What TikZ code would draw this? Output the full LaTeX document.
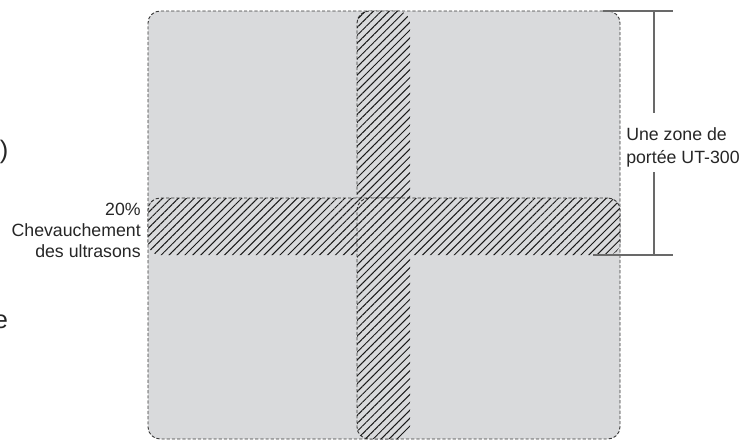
\documentclass[tikz,border=0pt]{standalone}
\usepackage{fontspec}
\setmainfont{Liberation Sans}
\usetikzlibrary{patterns.meta}
\definecolor{zonefill}{RGB}{217,218,220}
\definecolor{zoneline}{RGB}{55,55,55}
\definecolor{dimline}{RGB}{105,105,105}
\begin{document}
\begin{tikzpicture}[x=0.75pt,y=-0.75pt,
  zone/.style={draw=zoneline, fill=zonefill, dash pattern=on 2.4pt off 1.5pt,
    line width=0.7pt, rounded corners=9pt, inner sep=0pt, outer sep=0pt, anchor=north west},
  hatch/.style={pattern={Lines[angle=45,distance=4.2pt,line width=0.75pt]}, pattern color=black!90},
  lbl/.style={font=\fontsize{13.3}{15.75}\selectfont, inner sep=0pt, text=black!85},
  frag/.style={font=\fontsize{19}{22}\selectfont, inner sep=0pt, text=black!85},
  dim/.style={draw=dimline, line width=0.8pt}]
\useasboundingbox (0,0) rectangle (752,440);
% zones
\node[zone, minimum width=196.5pt, minimum height=183pt] (tl) at (148,11) {};
\node[zone, minimum width=197.25pt, minimum height=183pt] (tr) at (357,11) {};
\node[zone, minimum width=196.5pt, minimum height=180.75pt] (bl) at (148,198) {};
\node[zone, minimum width=197.25pt, minimum height=180.75pt] (br) at (357,198) {};
% overlaps: union of the four pairwise intersections, one fill
\fill[hatch, rounded corners=9pt]
  (tr.north west) rectangle (tl.south east)
  (bl.north west) rectangle (tl.south east)
  (br.north west) rectangle (tr.south east)
  (br.north west) rectangle (bl.south east);
% left label
\node[lbl, anchor=east, align=right] (overlap) at (141,230) {20\%\\Chevauchement\\des ultrasons};
% dimension
\node[lbl, anchor=west, align=left, font=\fontsize{13.3}{17.25}\selectfont] (range) at (626,147) {Une zone de\\portée UT-300};
\coordinate (dtl) at (603,11);
\coordinate (dtr) at (673,11);
\coordinate (dbl) at (593,255);
\coordinate (dbr) at (673,255);
\coordinate (dtm) at (654,11);
\coordinate (dbm) at (654,255);
\coordinate (gtop) at (654,113);
\coordinate (gbot) at (654,172);
\draw[dim] (dtl) -- (dtr);
\draw[dim] (dbl) -- (dbr);
\draw[dim] (dtm) -- (gtop);
\draw[dim] (gbot) -- (dbm);
% cropped text fragments at the left edge
\node[frag, anchor=base west] (fragA) at (-0.5,158) {)};
\node[frag, anchor=base west] (fragB) at (-6.5,328) {e};
\end{tikzpicture}
\end{document}
